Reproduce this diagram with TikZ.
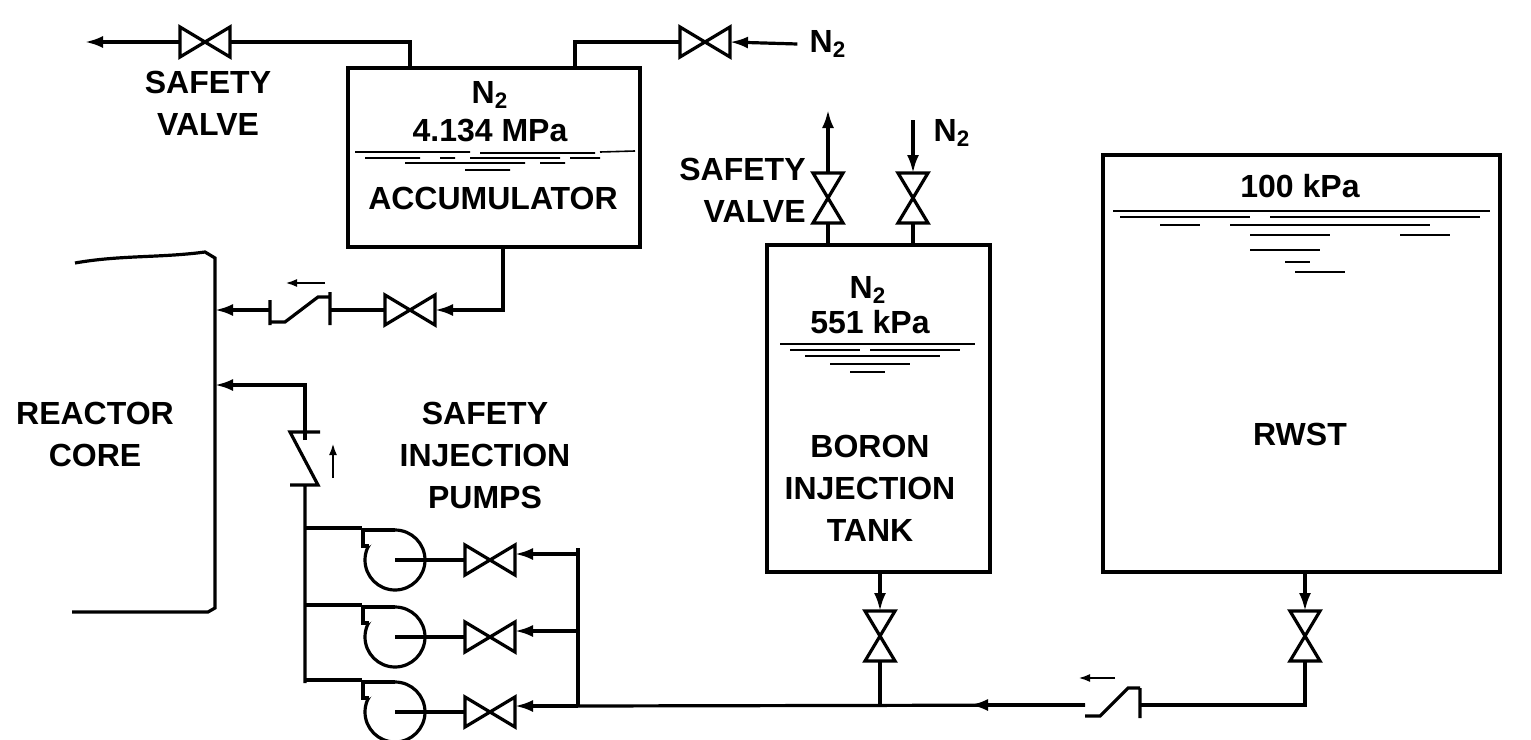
\documentclass[tikz,border=0pt]{standalone}
\usepackage{fontspec}
\setmainfont{Liberation Sans}
\usetikzlibrary{arrows.meta}

\tikzset{
  pipe/.style={line width=1.6pt},
  flow/.style={pipe,-{Latex[length=9pt,width=6pt]}},
  label/.style={font=\fontsize{16}{21}\selectfont\bfseries,align=center,inner sep=0pt},
  tank/.style={draw,line width=1.6pt,inner sep=0pt},
  water/.style={line width=0.8pt},
  hvalve/.pic={\draw[pipe,fill=white] (-25,-15) -- (-25,15) -- (25,-15) -- (25,15) -- cycle;},
  vvalve/.pic={\draw[pipe,fill=white] (-15,-25) -- (15,-25) -- (-15,25) -- (15,25) -- cycle;},
  pump/.pic={\draw[pipe] (0,0) circle (30);
    \draw[pipe,fill=white] (0,-30) -- (-32,-30) -- (-32,-14) -- (-26,-14);
    \draw[pipe] (0,0) -- (30,0);}
}

\begin{document}
\begin{tikzpicture}[x=0.5pt,y=-0.5pt]
    \useasboundingbox (0,0) rectangle (1531,739);

    % === Tanks ===
    \node[tank,minimum width=292*0.5pt,minimum height=179*0.5pt] (acc) at (494,157.5) {};
    \node[tank,minimum width=223*0.5pt,minimum height=327*0.5pt] (bit) at (878.5,408.5) {};
    \node[tank,minimum width=397*0.5pt,minimum height=417*0.5pt] (rwst) at (1301.5,363.5) {};

    \node[label] (accn) at (490,95) {N$_\mathbf{2}$};
    \node[label] (accp) at (490,131) {4.134 MPa};
    \node[label] (accl) at (493,198) {ACCUMULATOR};
    \node[label] (bitn) at (868,290) {N$_\mathbf{2}$};
    \node[label] (bitp) at (870,322) {551 kPa};
    \node[label] (bitl) at (870,488) {BORON\\INJECTION\\TANK};
    \node[label] (rwp) at (1300,186) {100 kPa};
    \node[label] (rwl) at (1300,434) {RWST};
    \node[label] (core) at (95,434) {REACTOR\\CORE};
    \node[label] (sv1) at (208,103) {SAFETY\\VALVE};
    \node[label,align=right,anchor=east] (sv2) at (806,190) {SAFETY\\VALVE};
    \node[label,align=center] (sip) at (485,455) {SAFETY\\INJECTION\\PUMPS};
    \node[label] (n2a) at (828,44) {N$_\mathbf{2}$};
    \node[label] (n2b) at (952,133) {N$_\mathbf{2}$};

    % water surfaces
    \draw[water] (355,152) -- (470,152) (480,153) -- (595,153) (600,152) -- (635,151)
                 (365,158) -- (420,158) (440,158) -- (455,158) (470,158) -- (560,158) (570,158) -- (600,158)
                 (405,163) -- (525,163) (540,163) -- (565,163) (465,170) -- (510,170);
    \draw[water] (780,344) -- (975,344) (790,350) -- (860,350) (870,350) -- (960,350)
                 (805,356) -- (940,356) (830,364) -- (910,364) (850,372) -- (885,372);
    \draw[water] (1113,211) -- (1490,211) (1120,217) -- (1250,217) (1270,217) -- (1480,217)
                 (1160,225) -- (1200,225) (1230,225) -- (1430,225) (1250,235) -- (1330,235) (1400,235) -- (1450,235)
                 (1250,250) -- (1320,250) (1285,262) -- (1310,262) (1295,272) -- (1345,272);

    % === Reactor core ===
    \draw[pipe] (75,263) .. controls (120,255) and (160,258) .. (205,252) -- (215,258) -- (215,608) -- (208,612) -- (72,612);

    % === Accumulator lines ===
    \coordinate (svtip) at (85,42);
    \coordinate (acct1) at (410,68);
    \coordinate (acct2) at (575,68);
    \coordinate (accb) at (503,247);
    \pic at (205,42) {hvalve};
    \pic at (705,42) {hvalve};
    \pic at (410,310) {hvalve};
    \draw[pipe] (acct1) -- (410,42) -- (230,42);
    \draw[flow] (180,42) -- (svtip);
    \draw[pipe] (acct2) -- (575,42) -- (680,42);
    \draw[flow] (n2a.west) ++(-12,0) -- (730,42);
    \draw[pipe] (accb) -- (503,310) -- (470,310);
    \draw[flow] (470,310) -- (435,310);
    \draw[pipe] (385,310) -- (330,310);
    \draw[pipe] (330,292) -- (330,325) (330,297) -- (318,297) -- (285,322) -- (270,322)
                (270,300) -- (270,325);
    \draw[flow] (270,310) -- (215,310);
    \draw[-{Latex[length=6pt,width=4pt]},line width=1.2pt] (325,283) -- (285,283);

    % === Injection line ===
    \draw[flow] (305,440) -- (305,385) -- (215,385);
    \draw[pipe] (290,432) -- (320,432) (305,432) -- (290,432) -- (318,485) -- (290,485) (305,485) -- (305,683);
    \draw[-{Latex[length=6pt,width=4pt]},line width=1.2pt] (333,478) -- (333,443);
    \foreach \y/\n in {560/1,637/2,712/3}{
      \pic at (395,\y) {pump};
      \pic at (490,\y) {hvalve};
      \draw[pipe] (305,\y-32) -- (362,\y-32);
      \draw[pipe] (425,\y) -- (465,\y);
      \draw[flow] (578,\y-6) -- (515,\y-6);
    }
    \draw[pipe] (578,548) -- (578,706);

    % === BIT lines ===
    \pic at (828,198) {vvalve};
    \pic at (913,198) {vvalve};
    \pic at (880,636) {vvalve};
    \draw[pipe] (828,245) -- (828,223);
    \draw[flow] (828,173) -- (828,110);
    \draw[flow] (913,120) -- (913,173);
    \draw[pipe] (913,223) -- (913,245);
    \draw[flow] (880,572) -- (880,611);
    \draw[pipe] (880,661) -- (880,706);

    % === RWST lines ===
    \pic at (1305,636) {vvalve};
    \draw[flow] (1305,572) -- (1305,611);
    \draw[pipe] (1305,661) -- (1305,705) -- (1140,705);
    \draw[pipe] (1140,688) -- (1140,718) (1140,688) -- (1128,688) -- (1100,716) -- (1085,716);
    \draw[pipe] (1085,705) -- (578,706);
    \draw[flow] (1085,705) -- (970,705);
    \draw[-{Latex[length=6pt,width=4pt]},line width=1.2pt] (1115,678) -- (1078,678);
\end{tikzpicture}
\end{document}
